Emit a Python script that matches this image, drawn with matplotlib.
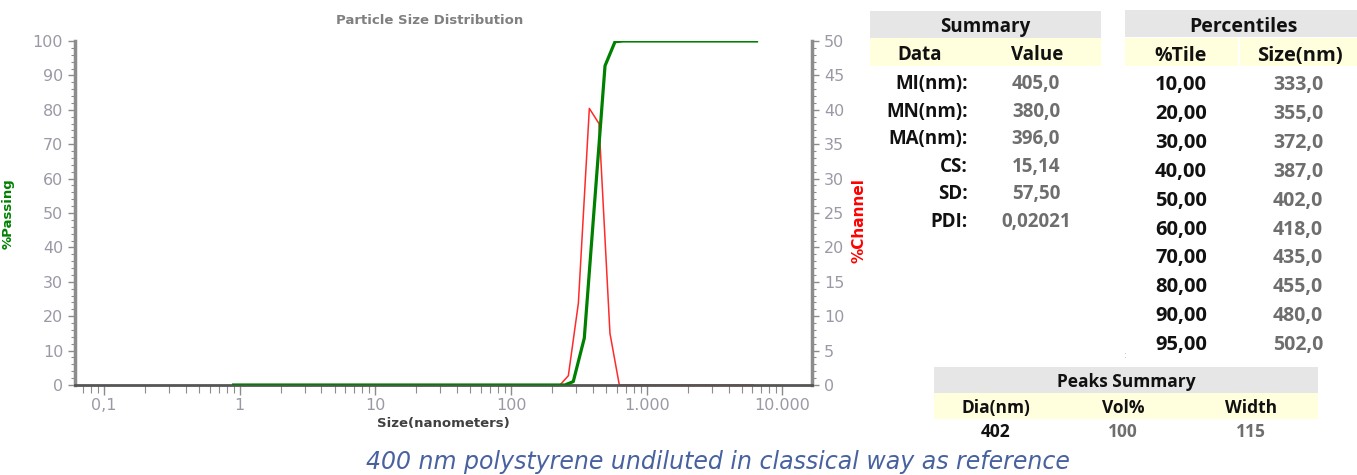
import matplotlib
matplotlib.use("Agg")
import matplotlib.pyplot as plt
from matplotlib.patches import Rectangle
from matplotlib.ticker import FixedLocator, FixedFormatter, LogLocator, MultipleLocator, NullFormatter

# ---------------- data ----------------
passing_size = [0.9, 249, 287, 346, 492, 583, 668, 6440]
passing_pct = [0, 0, 1.0, 13.6, 92.8, 99.8, 100, 100]

channel_size = [0.9, 229, 264, 313, 377, 444, 535, 627, 6070]
channel_pct = [0, 0, 1.35, 11.9, 40.2, 38.0, 7.5, 0, 0]

x_ticks = [0.1, 1, 10, 100, 1000, 10000]
x_ticklabels = ["0,1", "1", "10", "100", "1.000", "10.000"]

summary_labels = ["MI(nm):", "MN(nm):", "MA(nm):", "CS:", "SD:", "PDI:"]
summary_values = ["405,0", "380,0", "396,0", "15,14", "57,50", "0,02021"]

pct_tiles = ["10,00", "20,00", "30,00", "40,00", "50,00", "60,00", "70,00", "80,00", "90,00", "95,00"]
pct_sizes = ["333,0", "355,0", "372,0", "387,0", "402,0", "418,0", "435,0", "455,0", "480,0", "502,0"]

peak_headers = ["Dia(nm)", "Vol%", "Width"]
peak_values = ["402", "100", "115"]

caption = "400 nm polystyrene undiluted in classical way as reference"

# ---------------- figure ----------------
W, H = 1357, 475
fig = plt.figure(figsize=(W / 100, H / 100), dpi=100)

tick_col = "#9a9aa6"
ax = fig.add_axes([75 / W, 1 - 385 / H, (812 - 75) / W, (385 - 41) / H])
ax2 = ax.twinx()

ax.set_xscale("log")
ax.set_xlim(0.061, 16500)
ax.set_ylim(0, 100)
ax2.set_ylim(0, 50)

ax.plot(passing_size, passing_pct, color="#008000", lw=2.3, zorder=3)
ax2.plot(channel_size, channel_pct, color="#ff2a2a", lw=1.1, zorder=2)
ax.set_zorder(ax2.get_zorder() + 1)
ax.patch.set_visible(False)

ax.xaxis.set_major_locator(FixedLocator(x_ticks))
ax.xaxis.set_major_formatter(FixedFormatter(x_ticklabels))
ax.xaxis.set_minor_locator(LogLocator(base=10, subs=[2, 3, 4, 5, 6, 7, 8, 9], numticks=20))
ax.xaxis.set_minor_formatter(NullFormatter())

ax.yaxis.set_major_locator(MultipleLocator(10))
ax.yaxis.set_minor_locator(MultipleLocator(2))
ax2.yaxis.set_major_locator(MultipleLocator(5))
ax2.yaxis.set_minor_locator(MultipleLocator(1))

for a in (ax, ax2):
    a.spines["top"].set_visible(False)
    a.tick_params(which="both", colors="#8c8c8c", labelcolor=tick_col, labelsize=11.5,
                  direction="out")
    a.tick_params(which="major", length=5, width=1)
    a.tick_params(which="minor", length=3, width=0.8)

ax.spines["left"].set_color("#8c8c8c")
ax.spines["left"].set_linewidth(2.5)
ax.spines["right"].set_visible(False)
ax.spines["bottom"].set_color("#555555")
ax.spines["bottom"].set_linewidth(2)
ax2.spines["right"].set_color("#8c8c8c")
ax2.spines["right"].set_linewidth(2.5)
ax2.spines["left"].set_visible(False)
ax2.spines["bottom"].set_visible(False)
ax.tick_params(axis="x", which="major", length=7, pad=2)
ax.tick_params(axis="x", which="minor", length=6)

fig.text(430 / W, 1 - 20 / H, "Particle Size Distribution", ha="center", va="center",
         fontsize=9.5, fontweight="bold", color="#808080")
ax.set_xlabel("Size(nanometers)", fontsize=9.5, fontweight="bold", color="#404040")
ax.xaxis.set_label_coords(0.5, -32 / 344)
ax.set_ylabel("%Passing", fontsize=9.5, fontweight="bold", color="#008000")
ax.yaxis.set_label_coords(-60 / 737, (385 - 214) / 344)
ax2.set_ylabel("%Channel", fontsize=11, fontweight="bold", color="#ff0000")
ax2.yaxis.set_label_coords(1 + 40 / 737, (385 - 221) / 344)

# ---------------- tables overlay ----------------
ov = fig.add_axes([0, 0, 1, 1])
ov.set_xlim(0, W)
ov.set_ylim(H, 0)
ov.axis("off")
ov.patch.set_visible(False)

gray_bg = "#e6e6e6"
yel_bg = "#ffffdd"
tfont = "Open Sans"
val_col = "#6e6e6e"
blk = "#111111"

# Summary
ov.add_patch(Rectangle((870, 11), 231, 27, color=gray_bg, lw=0))
ov.add_patch(Rectangle((870, 38), 231, 28, color=yel_bg, lw=0))
ov.text(985, 27, "Summary", ha="center", va="center", fontsize=13.5, fontweight="bold", family=tfont, color=blk)
ov.text(920, 55, "Data", ha="center", va="center", fontsize=13.5, fontweight="bold", family=tfont, color=blk)
ov.text(1037, 55, "Value", ha="center", va="center", fontsize=13.5, fontweight="bold", family=tfont, color=blk)
for i, (lab, val) in enumerate(zip(summary_labels, summary_values)):
    y = 84 + i * 27.6
    ov.text(968, y, lab, ha="right", va="center", fontsize=13.5, fontweight="bold", family=tfont, color=blk)
    ov.text(1036, y, val, ha="center", va="center", fontsize=13.5, fontweight="bold", family=tfont, color=val_col)

# Percentiles
ov.add_patch(Rectangle((1125, 10), 232, 27, color=gray_bg, lw=0))
ov.add_patch(Rectangle((1125, 38), 113, 28, color=yel_bg, lw=0))
ov.add_patch(Rectangle((1240, 38), 117, 28, color=yel_bg, lw=0))
ov.text(1243, 27, "Percentiles", ha="center", va="center", fontsize=14, fontweight="bold", family=tfont, color=blk)
ov.text(1181, 56, "%Tile", ha="center", va="center", fontsize=14, fontweight="bold", family=tfont, color=blk)
ov.text(1300, 56, "Size(nm)", ha="center", va="center", fontsize=14.5, fontweight="bold", family=tfont, color=blk)
for i, (t, s) in enumerate(zip(pct_tiles, pct_sizes)):
    y = 85 + i * 28.9
    ov.text(1181, y, t, ha="center", va="center", fontsize=14.5, fontweight="bold", family=tfont, color=blk)
    ov.text(1298, y, s, ha="center", va="center", fontsize=14, fontweight="bold", family=tfont, color=val_col)
ov.text(1125, 355, ":", ha="center", va="center", fontsize=6, color="#aaaaaa")

# Peaks summary
ov.add_patch(Rectangle((934, 367), 384, 26, color=gray_bg, lw=0))
ov.add_patch(Rectangle((934, 393), 384, 26, color=yel_bg, lw=0))
ov.text(1126, 382, "Peaks Summary", ha="center", va="center", fontsize=12.5, fontweight="bold", family=tfont, color=blk)
peak_x = [996, 1123, 1251]
for px, hdr, val, c in zip(peak_x, peak_headers, peak_values, [blk, val_col, val_col]):
    ov.text(px, 408, hdr, ha="center", va="center", fontsize=12.5, fontweight="bold", family=tfont, color=blk)
    ov.text(px, 432, val, ha="center", va="center", fontsize=12.5, fontweight="bold", family=tfont, color=c)

# Caption
ov.text(718, 462, caption, ha="center", va="center", fontsize=17, style="italic",
        family="DejaVu Sans", color="#4862a0")

fig.savefig("out.png", dpi=100)
